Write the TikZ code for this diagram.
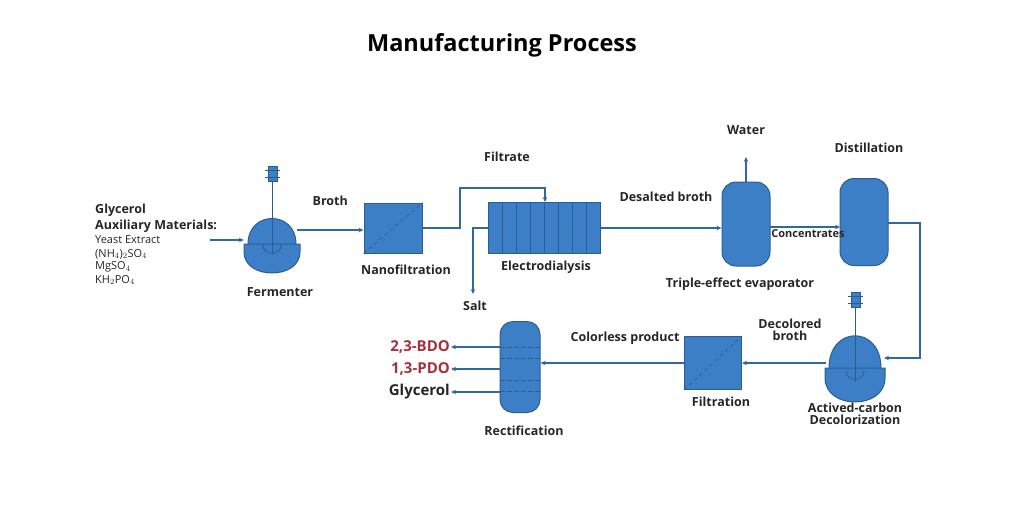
\documentclass[tikz,border=0pt]{standalone}
\usepackage{fontspec}
\setmainfont{Open Sans}
\usetikzlibrary{arrows.meta}
\definecolor{fillb}{HTML}{3D7FC6}
\definecolor{edgeb}{HTML}{2A5E92}
\definecolor{lineb}{HTML}{33689C}
\definecolor{dred}{HTML}{A3313F}
\begin{document}
\begin{tikzpicture}[x=1pt,y=-1pt,
  eq/.style={fill=fillb,draw=edgeb,line width=1pt},
  pipe/.style={draw=lineb,line width=1.8pt},
  flow/.style={pipe,-{Stealth[length=5pt,width=4.5pt]}},
  lbl/.style={font=\fontsize{12.5}{14}\selectfont\bfseries,text=black!85,inner sep=1pt,align=center},
  sm/.style={font=\fontsize{11}{12}\selectfont,text=black!85,inner sep=0pt,anchor=west},
  outl/.style={font=\fontsize{15}{17}\selectfont\bfseries,inner sep=1pt,anchor=east}]
\useasboundingbox (0,0) rectangle (1028,523);
\node[font=\fontsize{23.5}{27}\selectfont\bfseries] (title) at (502,45) {Manufacturing Process};
% left text
\node[font=\fontsize{12.5}{14}\selectfont\bfseries,inner sep=0pt,anchor=west,text=black!85] (gly) at (95,210) {Glycerol};
\node[font=\fontsize{12.5}{14}\selectfont\bfseries,inner sep=0pt,anchor=west,text=black!85] (aux) at (95,226) {Auxiliary Materials:};
\node[sm] (ye) at (95,240) {Yeast Extract};
\node[sm] (nh) at (95,254) {(NH$_4$)$_2$SO$_4$};
\node[sm] (mg) at (95,267) {MgSO$_4$};
\node[sm] (kh) at (95,280) {KH$_2$PO$_4$};
\coordinate (in0) at (210,240);
% Fermenter
\draw[eq] (248,244) .. controls (248,210) and (296,210) .. (296,244) -- (296,250) .. controls (296,264) and (248,264) .. (248,250) -- cycle;
\draw[eq] (244,244) -- (300,244) -- (300,252) .. controls (300,280) and (244,280) .. (244,252) -- cycle;
\node[inner sep=0pt,minimum width=56pt,minimum height=40pt] (ferm) at (272,240) {};
\draw[edgeb,line width=0.8pt] (272,180) -- (272,254);
\draw[edgeb,line width=0.8pt] (263,245) .. controls (263,256) and (281,256) .. (281,245);
\draw[eq,line width=0.6pt] (268,166) rectangle (277,181);
\draw[edgeb,line width=0.8pt] (265,170) -- (280,170) (265,177) -- (280,177);
\node[lbl] (fl) at (280,292) {Fermenter};
\draw[flow] (in0) -- (ferm.west);
% Nanofiltration
\node[eq,minimum width=58pt,minimum height=50pt,inner sep=0pt] (nf) at (393,228) {};
\draw[edgeb,dash pattern=on 4pt off 3pt,line width=0.6pt] (nf.south west) -- (nf.north east);
\node[lbl] (nfl) at (406,270) {Nanofiltration};
\draw[flow] (297,230) -- (nf.west|-297,230) node[lbl,midway,above=22pt] (brl) {Broth};
% Electrodialysis
\node[eq,minimum width=112pt,minimum height=51pt,inner sep=0pt] (ed) at (544,228) {};
\foreach \i in {1,...,7}{\draw[edgeb,line width=0.8pt] (488+\i*14,202.5) -- (488+\i*14,253.5);}
\node[lbl] (edl) at (546,267) {Electrodialysis};
\coordinate (ftop) at (545,202);
\draw[flow] (nf.east) -- (460,228) -- (460,188) -- (545,188) -- (ftop);
\node[lbl] (fil) at (507,157) {Filtrate};
\coordinate (saltend) at (473,294);
\draw[flow] (ed.west) -- (473,228) -- (saltend);
\node[lbl] (salt) at (475,306) {Salt};
% Evaporator
\node[eq,minimum width=48pt,minimum height=84pt,rounded corners=14pt,inner sep=0pt] (ev) at (746,224) {};
\coordinate (wtop) at (746,157);
\draw[flow] (ev.north) -- (wtop);
\node[lbl] (wl) at (746,130) {Water};
\node[lbl] (evl) at (740,284) {Triple-effect evaporator};
\draw[flow] (ed.east) -- (ev.west|-ed.east);
\node[lbl] (dbl) at (666,197) {Desalted broth};
% Distillation
\node[eq,minimum width=48pt,minimum height=87pt,rounded corners=14pt,inner sep=0pt] (di) at (864,222) {};
\draw[flow] (770,227) -- (840,227);
\node[lbl,font=\fontsize{11}{12}\selectfont\bfseries] (conc) at (808,234) {Concentrates};
\node[lbl] (dil) at (869,148) {Distillation};
% Decolorization vessel
\draw[eq] (829,368) .. controls (829,325) and (881,325) .. (881,368) -- (881,374) .. controls (881,390) and (829,390) .. (829,374) -- cycle;
\draw[eq] (825,368) -- (885,368) -- (885,378) .. controls (885,410) and (825,410) .. (825,378) -- cycle;
\node[inner sep=0pt,minimum width=58pt,minimum height=44pt] (dc) at (855,363) {};
\draw[edgeb,line width=0.8pt] (855,307) -- (855,382);
\draw[edgeb,line width=0.8pt] (846,371) .. controls (846,382) and (864,382) .. (864,371);
\draw[eq,line width=0.6pt] (851,292) rectangle (860,307);
\draw[edgeb,line width=0.8pt] (848,296) -- (863,296) (848,303) -- (863,303);
\node[lbl] (dcl) at (855,414) {Actived-carbon\\[-2pt]Decolorization};
\coordinate (dcin) at (884,358);
\draw[flow] (888,223) -- (920,223) -- (920,358) -- (dcin);
% Filtration
\node[eq,minimum width=57pt,minimum height=53pt,inner sep=0pt] (ft) at (713,363) {};
\draw[edgeb,dash pattern=on 4pt off 3pt,line width=0.6pt] (ft.south west) -- (ft.north east);
\node[lbl] (ftl) at (721,402) {Filtration};
\draw[flow] (dc.west) -- (ft.east);
\node[lbl] (dbr) at (790,330) {Decolored\\[-2pt]broth};
% Rectification
\node[eq,minimum width=40pt,minimum height=91pt,rounded corners=13pt,inner sep=0pt] (re) at (520,367) {};
\foreach \yy in {347,358,380,391}{\draw[edgeb,dash pattern=on 5pt off 2pt,line width=0.7pt] (500,\yy) -- (540,\yy);}
\node[lbl] (rel) at (524,431) {Rectification};
\draw[flow] (ft.west) -- (re.east|-ft.west);
\node[lbl] (cpl) at (625,338) {Colorless product};
% outputs
\node[outl,text=dred] (o1) at (451,347) {2,3-BDO};
\node[outl,text=dred] (o2) at (451,369) {1,3-PDO};
\node[outl,text=black!85] (o3) at (451,392) {Glycerol};
\draw[flow] (re.west|-o1) -- (o1.east);
\draw[flow] (re.west|-o2) -- (o2.east);
\draw[flow] (re.west|-o3) -- (o3.east);
\end{tikzpicture}
\end{document}
